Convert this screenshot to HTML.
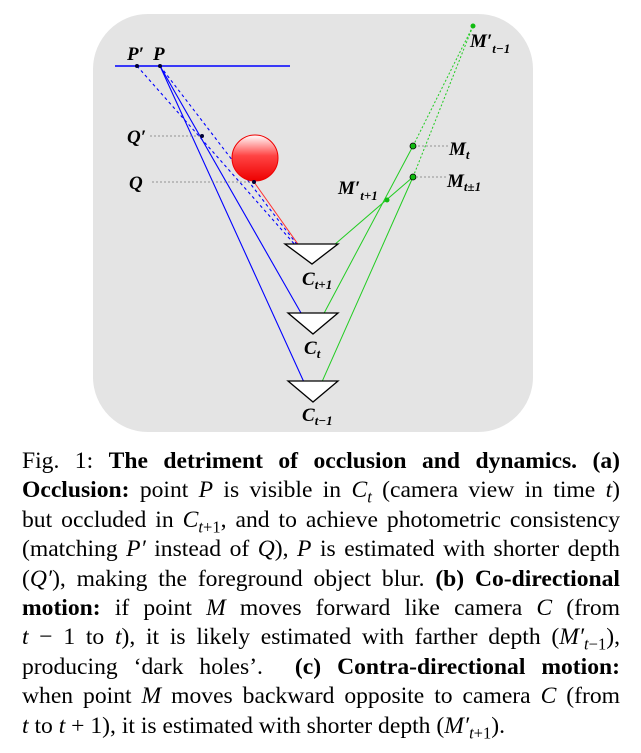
<!DOCTYPE html>
<html><head><meta charset="utf-8"><style>
body{margin:0;width:641px;height:753px;background:#fff;overflow:hidden;position:relative;font-family:"Liberation Serif",serif}
#cap{position:absolute;left:22px;top:447px;width:598px;font-size:23.6px;line-height:29.4px;color:#000}
#cap div{text-align:justify;text-align-last:justify;white-space:nowrap}
#cap div.last{text-align-last:left}
i{font-style:italic}
sub{font-size:70%;line-height:0}
</style></head><body>
<svg width="641" height="440" style="position:absolute;left:0;top:0" font-family="Liberation Serif, serif">
<defs><linearGradient id="sg" x1="0" y1="0" x2="0" y2="1"><stop offset="0" stop-color="#fff"/><stop offset="0.45" stop-color="#f44"/><stop offset="1" stop-color="#e00"/></linearGradient></defs>
<rect x="93" y="14" width="440" height="418" rx="55" fill="#e4e4e4"/>
<line x1="115" y1="66" x2="290" y2="66" stroke="#00f" stroke-width="1.6"/>
<g stroke="#00f" stroke-width="1.1" fill="none">
<line x1="160" y1="66" x2="313" y2="334"/>
<line x1="160" y1="66" x2="313" y2="402"/>
<line x1="137" y1="66" x2="312" y2="264" stroke-dasharray="3,3"/>
<line x1="160" y1="66" x2="312" y2="264" stroke-dasharray="3,3"/>
</g>
<circle cx="255" cy="158" r="23" fill="url(#sg)" stroke="#e00" stroke-width="1"/>
<line x1="254" y1="182" x2="312" y2="264" stroke="#f33" stroke-width="1"/>
<g stroke="#777" stroke-width="0.8" stroke-dasharray="2,2">
<line x1="150" y1="136" x2="200" y2="136"/><line x1="152" y1="182" x2="252" y2="182"/>
<line x1="448" y1="146" x2="417" y2="146"/><line x1="446" y1="177" x2="417" y2="177"/>
</g>
<g stroke="#2c2" stroke-width="1" fill="none">
<line x1="312" y1="264" x2="413" y2="177"/>
<line x1="313" y1="334" x2="413" y2="146"/>
<line x1="313" y1="402" x2="413" y2="177"/>
<line x1="413" y1="146" x2="473" y2="26" stroke-dasharray="2,2"/>
<line x1="413" y1="177" x2="473" y2="26" stroke-dasharray="2,2"/>
</g>
<g fill="#1b1" stroke="#000" stroke-width="0.8">
<circle cx="413" cy="146" r="3"/><circle cx="413" cy="177" r="3"/>
<circle cx="387" cy="200" r="2.5" stroke="none"/><circle cx="473" cy="26" r="2.5" stroke="none"/>
</g>
<g fill="#003"><circle cx="137" cy="66" r="2"/><circle cx="160" cy="66" r="2"/><circle cx="202" cy="136" r="2"/><circle cx="254" cy="182" r="2"/></g>
<g fill="#fff" stroke="#000" stroke-width="1.3">
<polygon points="285,244 338,244 312,264"/>
<polygon points="288,313 338,313 313,334"/>
<polygon points="288,381 338,381 313,402"/>
</g>
<g font-weight="bold" font-style="italic" font-size="19" fill="#000">
<text x="127" y="60">P′</text><text x="153" y="60">P</text>
<text x="127" y="143">Q′</text><text x="129" y="189">Q</text>
<text x="302" y="285">C<tspan font-size="13" dy="4">t+1</tspan></text>
<text x="304" y="354">C<tspan font-size="13" dy="4">t</tspan></text>
<text x="302" y="421">C<tspan font-size="13" dy="4">t−1</tspan></text>
<text x="470" y="47">M′<tspan font-size="13" dy="6">t−1</tspan></text>
<text x="449" y="155">M<tspan font-size="13" dy="4">t</tspan></text>
<text x="447" y="187">M<tspan font-size="13" dy="4">t±1</tspan></text>
<text x="338" y="194">M′<tspan font-size="13" dy="6">t+1</tspan></text>
</g>
</svg>
<div id="cap">
<div>Fig. 1: <b>The detriment of occlusion and dynamics. (a)</b></div>
<div><b>Occlusion:</b> point <i>P</i> is visible in <i>C<sub>t</sub></i> (camera view in time <i>t</i>)</div>
<div>but occluded in <i>C</i><sub><i>t</i>+1</sub>, and to achieve photometric consistency</div>
<div>(matching <i>P′</i> instead of <i>Q</i>), <i>P</i> is estimated with shorter depth</div>
<div>(<i>Q′</i>), making the foreground object blur. <b>(b) Co-directional</b></div>
<div><b>motion:</b> if point <i>M</i> moves forward like camera <i>C</i> (from</div>
<div><i>t</i> − 1 to <i>t</i>), it is likely estimated with farther depth (<i>M′</i><sub><i>t</i>−1</sub>),</div>
<div>producing ‘dark holes’. &nbsp;<b>(c) Contra-directional motion:</b></div>
<div>when point <i>M</i> moves backward opposite to camera <i>C</i> (from</div>
<div class="last"><i>t</i> to <i>t</i> + 1), it is estimated with shorter depth (<i>M′</i><sub><i>t</i>+1</sub>).</div>
</div>
</body></html>
